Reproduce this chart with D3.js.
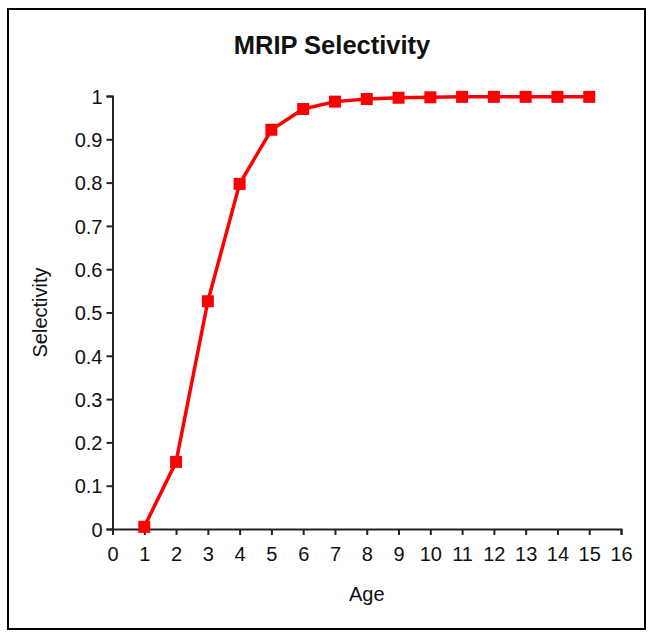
<!DOCTYPE html>
<html>
<head>
<meta charset="utf-8">
<script src="https://cdn.jsdelivr.net/npm/d3@7/dist/d3.min.js"></script>
<style>
  html, body { margin: 0; padding: 0; background: #fff; }
  svg { display: block; }
  text { font-family: "Liberation Sans", Arial, sans-serif; fill: #111; }
</style>
</head>
<body>
<svg id="chart" width="653" height="635"></svg>
<script>
const ages = [1, 2, 3, 4, 5, 6, 7, 8, 9, 10, 11, 12, 13, 14, 15];
const selectivity = [0.005, 0.155, 0.526, 0.797, 0.922, 0.970, 0.987, 0.993, 0.996, 0.997, 0.998, 0.998, 0.998, 0.998, 0.998];
const xTicks = d3.range(0, 17, 1);
const yTicks = [0, 0.1, 0.2, 0.3, 0.4, 0.5, 0.6, 0.7, 0.8, 0.9, 1];
const titleText = "MRIP Selectivity";
const xTitle = "Age";
const yTitle = "Selectivity";

const svg = d3.select("#chart");
const W = 653, H = 635;
const plot = { left: 112.5, right: 621, top: 96, bottom: 529 };

svg.append("rect").attr("width", W).attr("height", H).attr("fill", "#fff");
svg.append("rect")
  .attr("x", 8).attr("y", 9).attr("width", 637).attr("height", 620)
  .attr("fill", "none").attr("stroke", "#000").attr("stroke-width", 2);

const x = d3.scaleLinear().domain([0, 16]).range([plot.left, plot.right]);
const y = d3.scaleLinear().domain([0, 1]).range([plot.bottom, plot.top]);

// X axis
const xAxis = svg.append("g")
  .attr("transform", `translate(0,${plot.bottom})`)
  .call(d3.axisBottom(x).tickValues(xTicks).tickFormat(d3.format("d")).tickSize(6).tickPadding(12));
// Y axis
const yAxis = svg.append("g")
  .attr("transform", `translate(${plot.left},0)`)
  .call(d3.axisLeft(y).tickValues(yTicks).tickFormat(d => d === 0 || d === 1 ? String(d) : d3.format(".1f")(d)).tickSize(6).tickPadding(4));

[xAxis, yAxis].forEach(g => {
  g.select(".domain").attr("stroke", "#222").attr("stroke-width", 2);
  g.selectAll(".tick line").attr("stroke", "#222").attr("stroke-width", 2);
  g.selectAll(".tick text")
    .attr("font-family", "'Liberation Sans', Arial, sans-serif")
    .attr("font-size", 20).attr("fill", "#111");
});
yAxis.selectAll(".tick text").attr("dy", "0.36em");

// Line
const data = ages.map((a, i) => ({ a, v: selectivity[i] }));
svg.append("path")
  .datum(data)
  .attr("fill", "none")
  .attr("stroke", "#ff0000")
  .attr("stroke-width", 3.5)
  .attr("stroke-linejoin", "round")
  .attr("d", d3.line().x(d => x(d.a)).y(d => y(d.v)));

const ms = 12;
svg.selectAll("rect.marker")
  .data(data)
  .enter().append("rect")
  .attr("class", "marker")
  .attr("x", d => x(d.a) - ms / 2)
  .attr("y", d => y(d.v) - ms / 2)
  .attr("width", ms).attr("height", ms)
  .attr("fill", "#ff0000");

// Titles
svg.append("text")
  .attr("x", 332).attr("y", 54)
  .attr("text-anchor", "middle")
  .attr("font-size", 25.5).attr("font-weight", "bold")
  .text(titleText);

svg.append("text")
  .attr("x", (plot.left + plot.right) / 2).attr("y", 601)
  .attr("text-anchor", "middle")
  .attr("font-size", 20)
  .text(xTitle);

svg.append("text")
  .attr("transform", `translate(47,${(plot.top + plot.bottom) / 2}) rotate(-90)`)
  .attr("text-anchor", "middle")
  .attr("font-size", 20)
  .text(yTitle);
</script>
</body>
</html>
